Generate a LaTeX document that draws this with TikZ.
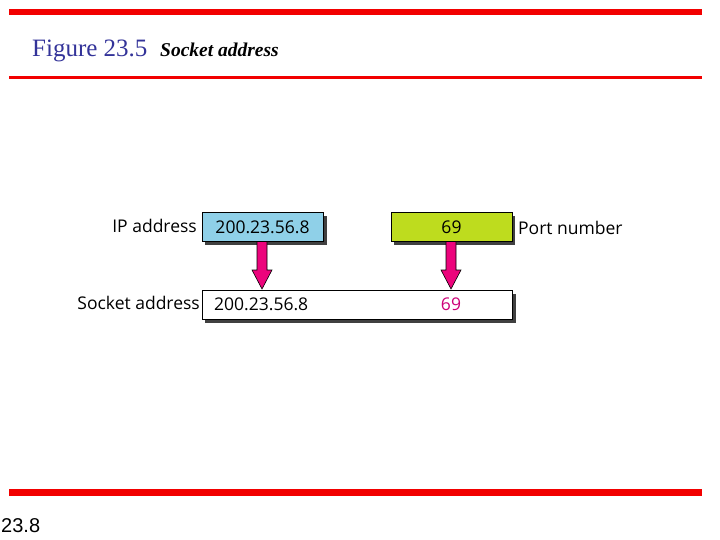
\documentclass[tikz,border=0pt]{standalone}
\usepackage{fontspec}
\setmainfont{Liberation Serif}
\newfontfamily\boxfont{Open Sans}
\newfontfamily\pagefont{Liberation Sans}
\definecolor{titleblue}{RGB}{51,51,153}
\begin{document}
\begin{tikzpicture}[x=1pt,y=-1pt,
  redbar/.style={fill=red!95!black, draw=none},
  field/.style={draw=black, line width=1pt},
  shadowbox/.style={fill=black!75, draw=none},
  lbl/.style={font=\boxfont\fontsize{17.5}{18}\selectfont, inner sep=0pt},
  bigarrow/.style={fill=magenta!85!red, draw=black, line width=0.6pt}]
\useasboundingbox (0,0) rectangle (720,540);
% red rules
\fill[redbar] (9,9) rectangle (702,15.5);
\fill[redbar] (9,76.5) rectangle (702,79);
\fill[redbar] (9,489) rectangle (702,495.5);
% title
\node[anchor=base west, inner sep=0pt, text=titleblue, font=\fontsize{25}{26}\selectfont] (fig) at (32,57) {Figure 23.5};
\node[anchor=base west, inner sep=0pt, font=\bfseries\itshape\fontsize{19.5}{20}\selectfont] (cap) at (160,57) {Socket address};
\node[anchor=base west, inner sep=0pt, font=\pagefont\fontsize{20}{21}\selectfont] (pg) at (1,532) {23.8};
% shadows
\fill[shadowbox] (205,216) rectangle (327,245);
\fill[shadowbox] (394,216) rectangle (515,245);
\fill[shadowbox] (205,294) rectangle (516,323);
% boxes
\node[field, fill={rgb,255:red,143;green,208;blue,232}, minimum width=121pt, minimum height=29pt, inner sep=0pt, anchor=north west] (ip) at (201.5,212) {};
\node[field, fill={rgb,255:red,190;green,220;blue,30}, minimum width=121pt, minimum height=29pt, inner sep=0pt, anchor=north west] (port) at (390.5,212) {};
\node[field, fill=white, minimum width=310pt, minimum height=29pt, inner sep=0pt, anchor=north west] (sock) at (201.5,290) {};
% texts
\node[lbl] (iptxt) at (ip.center) {200.23.56.8};
\node[lbl] (porttxt) at (port.center) {69};
\node[lbl, anchor=west] (socktxt) at (214,304.5) {200.23.56.8};
\node[lbl, text={rgb,255:red,205;green,0;blue,120}] (sockport) at (451,304.5) {69};
\node[lbl, anchor=east] (iplbl) at (197,225.5) {IP address};
\node[lbl, anchor=west] (portlbl) at (518,227.5) {Port number};
\node[lbl, anchor=east] (socklbl) at (200,303) {Socket address};
% arrows
\foreach \c in {262,451}{
  \draw[bigarrow] (\c-5,241.5) -- (\c+5,241.5) -- (\c+5,270) -- (\c+10,270) -- (\c,289) -- (\c-10,270) -- (\c-5,270) -- cycle;
}
\end{tikzpicture}
\end{document}
